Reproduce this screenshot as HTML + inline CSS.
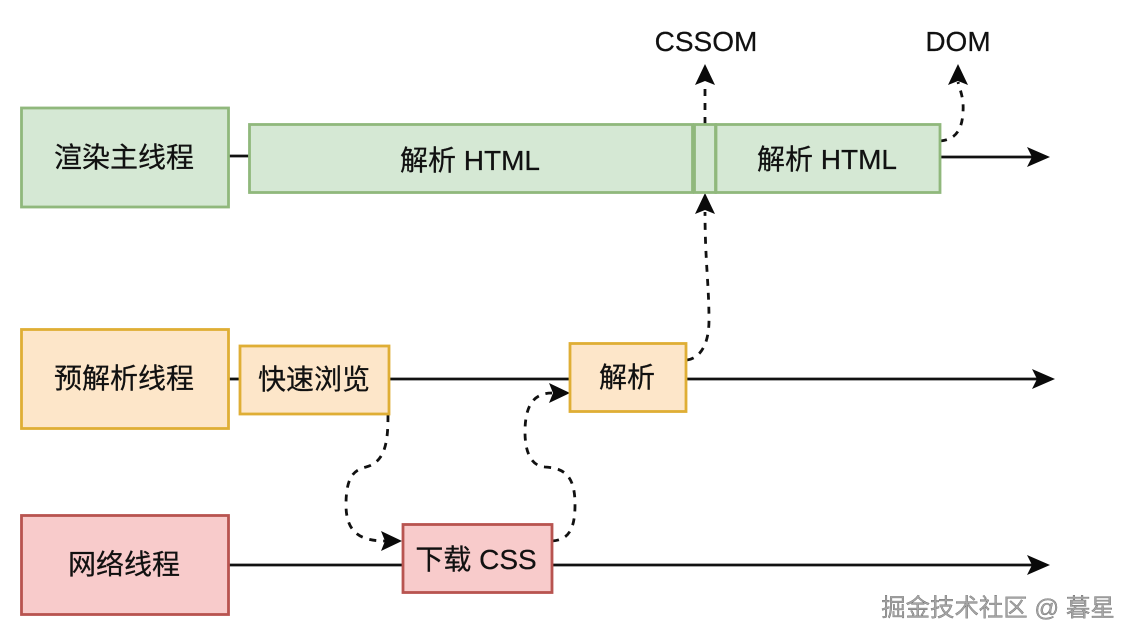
<!DOCTYPE html>
<html lang="zh">
<head>
<meta charset="utf-8">
<style>
html,body{margin:0;padding:0;background:#fff;width:1136px;height:642px;overflow:hidden}
svg{display:block}
text{font-family:"Liberation Sans","Noto Sans CJK SC",sans-serif;font-size:28px;fill:#111;stroke:#111;stroke-width:.25;text-anchor:middle}
.l{stroke:#111;stroke-width:2.8;fill:none}
.d{stroke:#111;stroke-width:2.8;fill:none;stroke-dasharray:7 7}
.g{fill:#d5e8d4;stroke:#90b87c;stroke-width:2.8}
.o{fill:#fde6c9;stroke:#dfae35;stroke-width:2.8}
.r{fill:#f8cbcb;stroke:#b85450;stroke-width:2.8}
.a{fill:#0a0a0a;stroke:none}
</style>
</head>
<body>
<svg width="1136" height="642" viewBox="0 0 1136 642" xmlns="http://www.w3.org/2000/svg">
<!-- solid lines -->
<path class="l" d="M229 156H250"/>
<path class="l" d="M940 157H1032"/>
<path class="a" d="M1050 157L1027 147L1032 157L1027 167Z"/>
<path class="l" d="M229 379H241"/>
<path class="l" d="M389 379H570"/>
<path class="l" d="M686 379H1037"/>
<path class="a" d="M1055 379L1032 369L1037 379L1032 389Z"/>
<path class="l" d="M229 565H403"/>
<path class="l" d="M552 565H1032"/>
<path class="a" d="M1050 565L1027 555L1032 565L1027 575Z"/>

<!-- dashed connectors -->
<path class="d" d="M705 124V84"/>
<path class="a" d="M705 64L695 85L705 81L715 85Z"/>
<path class="d" d="M940 141C952 140 962 134 963 112C964 98 960 90 958 82"/>
<path class="a" d="M958 64L948 85L958 81L968 85Z"/>
<path class="d" d="M687 360C700 358 709 345 709 320C709 285 705 260 705 212"/>
<path class="a" d="M705 193L695 214L705 210L715 214Z"/>
<path class="d" d="M388 415C388 440 386 462 366 467C352 470 346 480 346 505C346 532 360 541 385 541"/>
<path class="a" d="M402 541L381 531L385 541L381 551Z"/>
<path class="d" d="M552 541C568 540 575 530 575 505C575 480 568 468 545 467C530 466 525 450 525 432C525 408 532 393 552 393"/>
<path class="a" d="M570 393L549 383L553 393L549 403Z"/>

<!-- boxes -->
<rect class="g" x="21.5" y="108" width="207" height="99"/>
<rect class="o" x="21.5" y="329.5" width="207" height="99"/>
<rect class="r" x="21.5" y="515.5" width="207" height="99"/>
<rect class="g" x="249.5" y="124.5" width="443" height="68"/>
<rect class="g" x="694.5" y="124.5" width="21" height="68"/>
<rect class="g" x="716" y="124.5" width="224" height="68"/>
<rect class="o" x="240" y="346" width="149" height="68"/>
<rect class="o" x="570" y="343.5" width="116" height="68"/>
<rect class="r" x="403" y="524.5" width="149" height="68"/>

<!-- labels -->
<text x="124" y="167">渲染主线程</text>
<text x="124" y="388">预解析线程</text>
<text x="124" y="574">网络线程</text>
<text x="470" y="170">解析 HTML</text>
<text x="827" y="169">解析 HTML</text>
<text x="314" y="389">快速浏览</text>
<text x="627" y="387">解析</text>
<text x="476" y="569">下载 CSS</text>
<text x="706" y="51">CSSOM</text>
<text x="958" y="51">DOM</text>
<text x="998" y="616" style="font-size:24.4px;fill:#a5a5a5;stroke:#555;stroke-width:.3">掘金技术社区 @ 暮星</text>
</svg>
</body>
</html>
